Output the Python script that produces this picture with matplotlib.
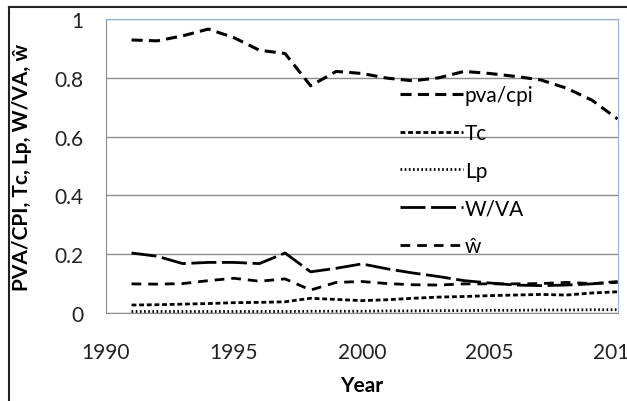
"""Recreate the PVA/CPI, Tc, Lp, W/VA, w-hat line chart."""
import matplotlib
matplotlib.use("Agg")
import matplotlib.pyplot as plt
from matplotlib.lines import Line2D

plt.rcParams['font.family'] = ['Lato', 'DejaVu Sans']
plt.rcParams['lines.scale_dashes'] = False

# Data
years = list(range(1991, 2011))
pva_cpi = [0.929, 0.926, 0.943, 0.966, 0.937, 0.894, 0.883, 0.773, 0.822, 0.815,
           0.799, 0.790, 0.800, 0.822, 0.815, 0.805, 0.793, 0.765, 0.724, 0.660]
tc = [0.027, 0.028, 0.030, 0.032, 0.035, 0.036, 0.038, 0.050, 0.046, 0.042,
      0.045, 0.050, 0.054, 0.056, 0.059, 0.061, 0.063, 0.061, 0.068, 0.072]
lp = [0.005, 0.005, 0.005, 0.005, 0.005, 0.005, 0.005, 0.006, 0.006, 0.006,
      0.007, 0.007, 0.008, 0.008, 0.009, 0.009, 0.010, 0.010, 0.011, 0.011]
w_va = [0.204, 0.193, 0.168, 0.172, 0.172, 0.168, 0.204, 0.140, 0.152, 0.167,
        0.150, 0.136, 0.124, 0.110, 0.102, 0.095, 0.093, 0.095, 0.099, 0.107]
w_hat = [0.099, 0.098, 0.100, 0.110, 0.118, 0.108, 0.116, 0.078, 0.104, 0.107,
         0.100, 0.096, 0.095, 0.099, 0.099, 0.099, 0.100, 0.104, 0.100, 0.104]

x_ticks = [1990, 1995, 2000, 2005, 2010]
y_ticks = [0, 0.2, 0.4, 0.6, 0.8, 1]
y_tick_labels = ['0', '0.2', '0.4', '0.6', '0.8', '1']

fig = plt.figure(figsize=(6.27, 4.02), dpi=100)
ax = fig.add_axes([0.169, 0.219, 0.816, 0.731])

ax.plot(years, pva_cpi, color='black', lw=2.2, dashes=(8, 4.5), label='pva/cpi')
ax.plot(years, tc, color='black', lw=2.0, dashes=(3.5, 2), label='Tc')
ax.plot(years, lp, color='black', lw=2.0, dashes=(1.2, 1.8), label='Lp')
ax.plot(years, w_va, color='black', lw=2.0, dashes=(18, 4), label='W/VA')
ax.plot(years, w_hat, color='black', lw=2.0, dashes=(7, 5), label='ŵ')

ax.set_xlim(1990, 2010)
ax.set_ylim(0, 1)
ax.set_xticks(x_ticks)
ax.set_yticks(y_ticks)
ax.set_yticklabels(y_tick_labels)
ax.tick_params(axis='both', length=0, labelsize=15, colors='#222222')
ax.tick_params(axis='x', pad=21)
ax.tick_params(axis='y', pad=16)
for lbl in ax.get_xticklabels():
    lbl.set_clip_on(False)

ax.grid(axis='y', color='#8c8c8c', lw=1)
ax.set_axisbelow(True)
ax.spines['left'].set_color('#8c8c8c')
ax.spines['bottom'].set_color('#8c8c8c')
ax.spines['top'].set_color('#95b3d7')
ax.spines['right'].set_color('#95b3d7')

ax.set_xlabel('Year', fontsize=15, fontweight='bold', labelpad=9)
ax.set_ylabel('PVA/CPI, Tc, Lp, W/VA, ŵ', fontsize=15, fontweight='bold', labelpad=16)

ax.legend(loc='upper left', bbox_to_anchor=(0.555, 0.81), frameon=False,
          fontsize=15, handlelength=3.0, handletextpad=0.1, labelspacing=0.85,
          borderpad=0)

# chart-area border (top and left edges visible in the crop)
fig.add_artist(Line2D([9 / 627, 1], [1 - 8 / 402, 1 - 8 / 402],
                      transform=fig.transFigure, color='#222222', lw=1.5))
fig.add_artist(Line2D([9 / 627, 9 / 627], [0, 1 - 8 / 402],
                      transform=fig.transFigure, color='#222222', lw=1.5))

fig.savefig('out.png', dpi=100)
